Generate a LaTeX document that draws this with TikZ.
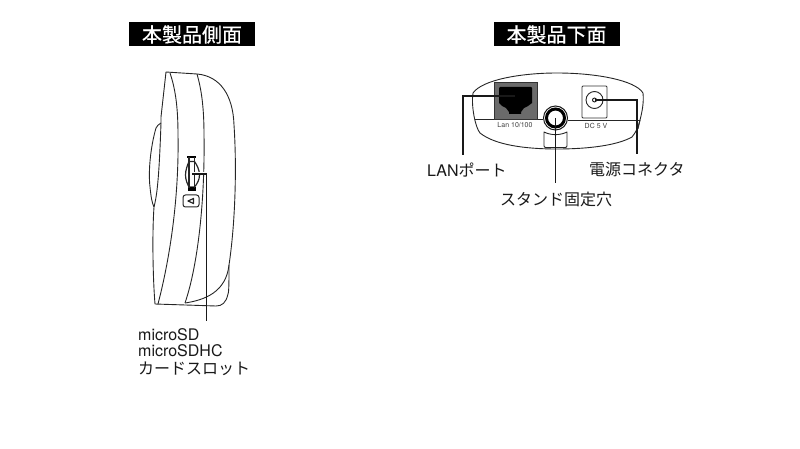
\documentclass[tikz,border=0pt]{standalone}
\usepackage{fontspec}
\setmainfont{TeX Gyre Heros}
\newfontfamily\cjk{Noto Sans CJK JP}
\newfontfamily\cjkbold[FakeBold=0.5]{Noto Sans CJK JP}
\tikzset{
  body/.style={draw=black!85,line width=0.9pt,line join=round},
  leader/.style={draw=black!90,line width=1.6pt},
  titlebox/.style={fill=black,text=white,inner sep=0pt,minimum width=126pt,minimum height=24pt,font=\cjkbold\fontsize{20}{20}\selectfont},
  lbl/.style={inner sep=0pt,text=black!90,font=\fontsize{16}{16}\selectfont},
  tiny/.style={inner sep=0pt,text=black!75,font=\fontsize{7}{7}\selectfont}
}
\begin{document}
\begin{tikzpicture}[x=1pt,y=-1pt]
\useasboundingbox (0,0) rectangle (800,449);
\node[titlebox] (t1) at (192,34.5) {本製品側面};
\node[titlebox] (t2) at (556.5,34.5) {本製品下面};
% side view
\path[body] (166,72) -- (197,74) .. controls (220,76) and (233,95) .. (234,125)
  .. controls (237,170) and (235,225) .. (229,265)
  .. controls (229,280) and (229,292) .. (228,294)
  .. controls (226,303) and (222,306) .. (216,306)
  -- (155,304) .. controls (153,280) and (152,235) .. (154,207)
  .. controls (157,195) and (159,180) .. (161,123) -- (161,117) -- cycle;
\path[body] (161,123) .. controls (158,125) and (157,126) .. (156,128)
  .. controls (151,145) and (148,170) .. (150,187)
  .. controls (151,197) and (152,203) .. (154,207);
\path[body] (170,73) .. controls (175,88) and (178,105) .. (178,135)
  .. controls (179,190) and (172,250) .. (158,304);
\path[body] (197,74) .. controls (201,88) and (204,105) .. (204,135)
  .. controls (205,200) and (198,265) .. (185,303);
\path[body] (185,303) .. controls (205,300) and (226,292) .. (229,265);
% slot
\path[body,line width=1.2pt] (185.5,175) .. controls (185.5,170) and (187.5,165) .. (189,161.5) -- (194.5,161.5) .. controls (197,165) and (199.5,170) .. (199.5,175)
  .. controls (199.5,180) and (197,184) .. (194.5,187) -- (189,187) .. controls (187.5,184) and (185.5,180) .. (185.5,175) -- cycle;
\path[fill=black] (187,156) rectangle (196,158.5);
\path[fill=black] (187.5,187) rectangle (195.5,191);
\path[body,line width=1.3pt] (189,157) -- (189,188);
\path[body,line width=1.3pt] (194.5,157) -- (194.5,188);
\node[draw=black!85,line width=1pt,rounded corners=2.5pt,minimum width=16pt,minimum height=12pt,inner sep=0pt] (icon) at (191,201) {};
\path[body,line width=1.2pt] (188,201) -- (193.5,198.5) -- (193.5,203.5) -- cycle;
\coordinate (slot) at (192,174);
\coordinate (slotend) at (206.5,321);
\draw[draw=white,line width=3pt] (slot) -- (206.5,174);
\draw[leader] (slot) -| (slotend);
\node[lbl,anchor=north west,align=left] (sd) at (138,328) {microSD\\microSDHC\\[2pt]{\cjk カードスロット}};
% bottom view
\path[body] (473,93) .. controls (482,80) and (520,73) .. (557,73)
  .. controls (595,73) and (635,80) .. (643,93)
  .. controls (644,103) and (642,112) .. (640,120)
  .. controls (638,128) and (636,132) .. (632,137)
  .. controls (618,145) and (590,149) .. (557,149)
  .. controls (525,149) and (495,145) .. (480,133)
  .. controls (475,127) and (471,105) .. (473,93) -- cycle;
\path[body] (475,119.5) -- (543,119.5);
\path[body] (568,120) -- (640,120);
\path[body] (640,120) -- (638,129);
\node[fill=black!58,draw=black!80,line width=0.7pt,minimum width=43pt,minimum height=37pt,inner sep=0pt] (lanbox) at (515.5,100.5) {};
\path[fill=black] (499,88) .. controls (499,87.2) and (499.5,87) .. (500,87) -- (531,87) .. controls (531.5,87) and (532,87.2) .. (532,88) -- (532,103) -- (528,106) -- (524,108) -- (521,112) -- (521,114) -- (509,114) -- (509,112) -- (506,108) -- (502,106) -- (499,103) -- cycle;
\node[tiny] (lantxt) at (515,125.5) {Lan 10/100};
\node[draw=black!90,circle,line width=1pt,minimum size=24pt,inner sep=0pt] (hole) at (555.5,118) {};
\node[draw=black,fill=white,circle,line width=3pt,minimum size=18pt,inner sep=0pt] (holein) at (555.5,118) {};
\path[body,fill=white] (544,132) .. controls (551,135.5) and (560,135.5) .. (567,132) -- (567,146) .. controls (567,147) and (566,147.5) .. (565,147.5) -- (546,147.5) .. controls (545,147.5) and (544,147) .. (544,146) -- cycle;
\node[draw=black!80,line width=0.8pt,rounded corners=1pt,minimum width=25pt,minimum height=32pt,inner sep=0pt] (dcbox) at (594.5,102) {};
\node[draw=black!85,circle,line width=0.9pt,minimum size=17pt,inner sep=0pt] (dc) at (594.5,100) {};
\node[draw=black,fill=white,circle,line width=0.8pt,minimum size=4pt,inner sep=0pt] (dcin) at (594.5,100) {};
\node[tiny] (dctxt) at (596,126) {DC 5 V};
\coordinate (lanp) at (515,96);
\coordinate (lanend) at (463,155);
\draw[draw=white!70!black,line width=2.8pt] (499,96) -- (lanp);
\draw[leader] (lanp) -| (lanend);
\coordinate (dcend) at (637,154);
\draw[leader] (dc.center) -| (dcend);
\coordinate (holeend) at (555.5,183);
\draw[leader] (hole.center) -- (holeend);
\node[lbl,anchor=west] (lan) at (427,170) {LAN{\cjk ポート}};
\node[lbl,anchor=west] (pwr) at (589,170) {\cjk 電源コネクタ};
\node[lbl,anchor=west] (std) at (500,199.5) {\cjk スタンド固定穴};
\end{tikzpicture}
\end{document}
